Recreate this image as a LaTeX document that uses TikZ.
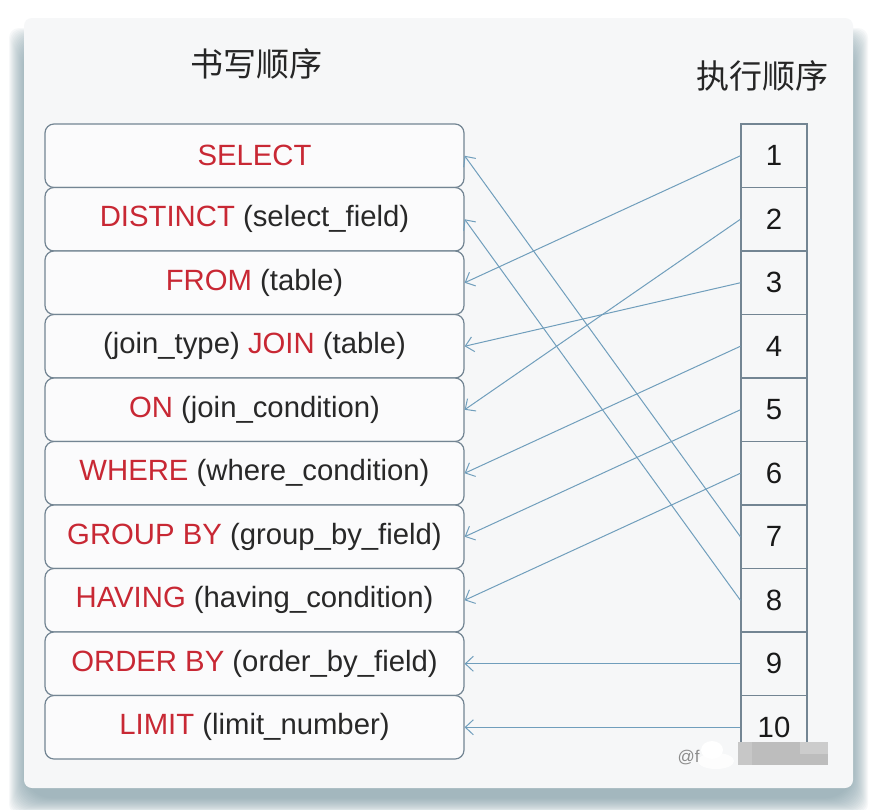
\documentclass[tikz,border=0pt]{standalone}
\usepackage{fontspec}
\setmainfont{Liberation Sans}
\newfontfamily\cjk{Noto Sans CJK SC}
\usetikzlibrary{arrows.meta}
\definecolor{kw}{RGB}{200,40,52}
\definecolor{txt}{RGB}{40,40,40}
\definecolor{edge}{RGB}{115,133,147}
\definecolor{arr}{RGB}{112,158,188}
\definecolor{cardbg}{RGB}{246,247,248}
\definecolor{boxbg}{RGB}{251,251,252}
\definecolor{shad}{RGB}{120,152,162}
\begin{document}
\begin{tikzpicture}[x=1pt,y=-1pt,
 clause/.style={draw=edge, line width=1.2pt, rounded corners=9pt, fill=boxbg,
   minimum width=419pt, minimum height=63.5pt, inner sep=0pt,
   font=\fontsize{29.3}{33}\selectfont, text=txt},
 cell/.style={draw=edge, line width=1.2pt, fill=cardbg, minimum width=66pt,
   minimum height=63.5pt, inner sep=0pt, font=\fontsize{29.3}{33}\selectfont, text=black!90},
 link/.style={draw=arr, line width=1pt, -{Straight Barb[length=8pt,width=15pt,line width=1pt]}},
 title/.style={font=\cjk\fontsize{33}{36}\selectfont, text=black!85}]
\useasboundingbox (0,0) rectangle (869,809);
\fill[white] (0,0) rectangle (869,809);
% shadow
\foreach \k in {0,...,16}{
  \fill[shad, opacity=0.06, rounded corners={10+\k}]
    (24-15+\k, 18+10+\k) rectangle (853+15-\k, 788+26-\k);
}
% card
\fill[cardbg, rounded corners=8pt] (24,18) rectangle (853,788);
% titles
\node[title] (t1) at (256,64) {书写顺序};
\node[title] (t2) at (762,76) {执行顺序};
% clauses
\node[clause] (b1)  at (254.5,155.75) {\color{kw}SELECT};
\node[clause] (b2)  at (254.5,219.25) {{\color{kw}DISTINCT} (select\_field)};
\node[clause] (b3)  at (254.5,282.75) {{\color{kw}FROM} (table)};
\node[clause] (b4)  at (254.5,346.25) {(join\_type) {\color{kw}JOIN} (table)};
\node[clause] (b5)  at (254.5,409.75) {{\color{kw}ON} (join\_condition)};
\node[clause] (b6)  at (254.5,473.25) {{\color{kw}WHERE} (where\_condition)};
\node[clause] (b7)  at (254.5,536.75) {{\color{kw}GROUP BY} (group\_by\_field)};
\node[clause] (b8)  at (254.5,600.25) {{\color{kw}HAVING} (having\_condition)};
\node[clause] (b9)  at (254.5,663.75) {{\color{kw}ORDER BY} (order\_by\_field)};
\node[clause] (b10) at (254.5,727.25) {{\color{kw}LIMIT} (limit\_number)};
% execution order cells
\foreach \i in {1,...,10}{
  \node[cell] (c\i) at (774,{124+63.5*(\i-0.5)}) {\i};
}
% connectors
\draw[link] (c1.west) -- (b3.east);
\draw[link] (c2.west) -- (b5.east);
\draw[link] (c3.west) -- (b4.east);
\draw[link] (c4.west) -- (b6.east);
\draw[link] (c5.west) -- (b7.east);
\draw[link] (c6.west) -- (b8.east);
\draw[link] (c7.west) -- (b1.east);
\draw[link] (c8.west) -- (b2.east);
\draw[link] (c9.west) -- (b9.east);
\draw[link] (c10.west) -- (b10.east);
% watermark
\node[anchor=west, text=black!45, font=\fontsize{17}{19}\selectfont] (wm) at (674,758) {@f};
\fill[white, opacity=0.85] (716,761) ellipse (18pt and 8pt);
\fill[white] (712,750) ellipse (11pt and 9pt);
\fill[black!22] (738,742) rectangle (752,765);
\fill[black!26] (752,742) rectangle (828,765);
\fill[black!20] (800,742) rectangle (828,754);
\end{tikzpicture}
\end{document}
